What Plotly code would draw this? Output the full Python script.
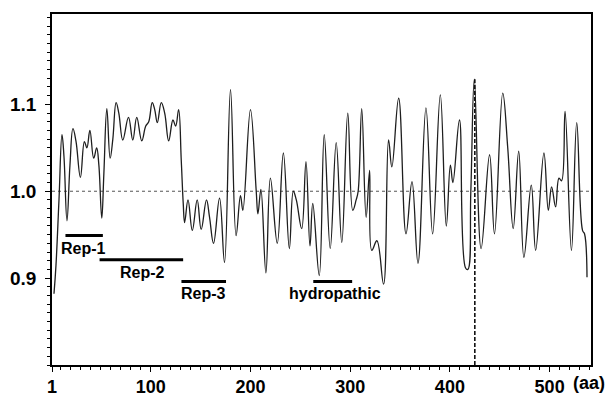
import plotly.graph_objects as go

# residue positions (aa) and profile values (extrema)
pos = [3, 5, 8, 11, 13, 16, 19, 22, 25, 29.5, 33.5, 36, 39, 42.8, 45.8, 48, 50.9, 53, 56, 59.3,
       62, 65.3, 68, 72, 77.7, 82, 86, 91, 95, 98, 101.5, 104, 106.6, 110.6, 114, 118, 122.3, 125,
       128, 130.6, 132.6, 134, 137.4, 141.7, 146.6, 150.6, 155.9, 159, 163, 169, 174, 180, 185.6,
       190, 192.4, 200, 205.8, 207.5, 210.5, 215.5, 220, 226.9, 233, 239, 243, 246, 251.4, 255.7,
       259.7, 262.5, 269, 274, 280, 286, 291.6, 297.6, 302.6, 306, 308, 311.6, 316, 319.5, 321.7,
       326.8, 333.5, 338.5, 341.8, 348.6, 356, 362, 368, 376, 382.7, 390.4, 396.4, 400.5, 403,
       409.6, 415.6, 418, 421, 424.5, 431.3, 439.8, 444.7, 453, 458, 463.5, 469, 474.2, 481.6,
       486, 494.3, 498.7, 502, 506, 509.4, 512, 515.5, 521.9, 527.2, 533, 535, 537.5]
val = [0.882, 0.915, 0.99, 1.065, 1.04, 0.966, 1.03, 1.072, 1.058, 1.016, 1.057, 1.05, 1.07, 1.038,
       1.05, 1.03, 0.969, 1.02, 1.095, 1.038, 1.06, 1.102, 1.09, 1.059, 1.085, 1.059, 1.085, 1.058,
       1.075, 1.08, 1.102, 1.094, 1.079, 1.102, 1.09, 1.058, 1.082, 1.075, 1.094, 1.036, 0.986,
       0.964, 0.99, 0.955, 0.99, 0.956, 0.99, 0.97, 0.94, 0.992, 0.918, 1.117, 0.949, 0.995, 0.978,
       1.094, 1.0, 0.974, 1.002, 0.906, 1.015, 0.94, 1.044, 0.934, 1.0, 0.99, 0.957, 1.034, 0.937,
       0.986, 0.903, 1.065, 0.934, 1.056, 0.941, 1.09, 0.978, 0.99, 1.0, 1.095, 0.97, 1.024, 0.932,
       0.943, 0.893, 1.059, 1.028, 1.107, 0.951, 1.011, 0.917, 1.096, 0.951, 1.111, 0.96, 1.03,
       1.01, 1.082, 0.912, 0.91, 1.0, 1.129, 0.934, 1.042, 0.951, 1.113, 1.05, 0.957, 1.046, 0.924,
       1.007, 0.932, 1.044, 0.978, 1.005, 0.982, 1.015, 1.012, 1.092, 0.932, 1.079, 0.955, 0.951,
       0.901]

# region bars and labels
region_names = ["Rep-1", "Rep-2", "Rep-3", "hydropathic"]
region_start = [14.5, 48.7, 130.8, 263]
region_end = [52, 132.5, 175.5, 302]
region_level = [0.949, 0.921, 0.896, 0.896]
label_x = [32.5, 91.3, 153.3, 284.3]
label_y = [0.934, 0.907, 0.882, 0.882]

marker_pos = 425
baseline = 1.0
x_ticks = [1, 100, 200, 300, 400, 500]
y_ticks = [0.9, 1.0, 1.1]
y_tick_text = ["0.9", "1.0", "1.1"]

FONT = "Liberation Sans, Arial"

fig = go.Figure()
fig.add_trace(go.Scatter(x=pos, y=val, mode="lines",
                         line=dict(color="#1e1e1e", width=1.3, shape="spline", smoothing=1.15),
                         hoverinfo="skip"))

# dotted baseline
fig.add_shape(type="line", xref="paper", x0=0, x1=1, yref="y", y0=baseline, y1=baseline,
              line=dict(color="#555555", width=1, dash="dot"), layer="below")
# dashed marker
fig.add_shape(type="line", xref="x", x0=marker_pos, x1=marker_pos, yref="y",
              y0=0.8, y1=max(val), line=dict(color="#111111", width=1.6, dash="4px,2px"))

for n, s, e, lv, lx, ly in zip(region_names, region_start, region_end, region_level, label_x, label_y):
    fig.add_shape(type="line", x0=s, x1=e, y0=lv, y1=lv, xref="x", yref="y",
                  line=dict(color="black", width=3))
    fig.add_annotation(x=lx, y=ly, xref="x", yref="y", text="<b>%s</b>" % n, showarrow=False,
                       font=dict(family=FONT, size=16, color="black"),
                       xanchor="center", yanchor="middle")

fig.add_annotation(x=0.996, y=-0.052, xref="paper", yref="paper", text="<b>(aa)</b>",
                   showarrow=False, font=dict(family=FONT, size=18, color="black"),
                   xanchor="center", yanchor="middle")

fig.update_layout(
    width=610, height=396,
    margin=dict(l=52, r=19, t=14, b=31, autoexpand=False),
    paper_bgcolor="white", plot_bgcolor="white",
    showlegend=False,
    font=dict(family=FONT, size=19, color="black"),
)
fig.update_xaxes(range=[1, 541.5], tickmode="array", tickvals=x_ticks,
                 ticktext=["<b>%d</b>" % t for t in x_ticks],
                 tickfont=dict(family=FONT, size=18, color="black"),
                 ticks="outside", ticklen=5, tickwidth=1.3, tickcolor="black",
                 showline=True, linecolor="black", linewidth=1.6, mirror=True,
                 showgrid=False, zeroline=False, ticklabelstandoff=0, automargin=False,
                 minor=dict(tickmode="linear", tick0=0, dtick=10, ticks="outside",
                            ticklen=3, tickwidth=1, tickcolor="black", showgrid=False))
fig.update_yaxes(range=[0.8, 1.204], tickmode="array", tickvals=y_ticks,
                 ticktext=["<b>%s</b>" % t for t in y_tick_text],
                 ticks="outside", ticklen=5, tickwidth=1.3, tickcolor="black",
                 showline=True, linecolor="black", linewidth=1.6, mirror=True,
                 showgrid=False, zeroline=False, ticklabelstandoff=5, automargin=False,
                 minor=dict(tickmode="linear", tick0=0.8, dtick=0.01, ticks="outside",
                            ticklen=3, tickwidth=1, tickcolor="black", showgrid=False))

fig.write_html("out.html", config={"displayModeBar": False},
               post_script="document.body.style.margin='0';document.body.style.overflow='hidden';")
